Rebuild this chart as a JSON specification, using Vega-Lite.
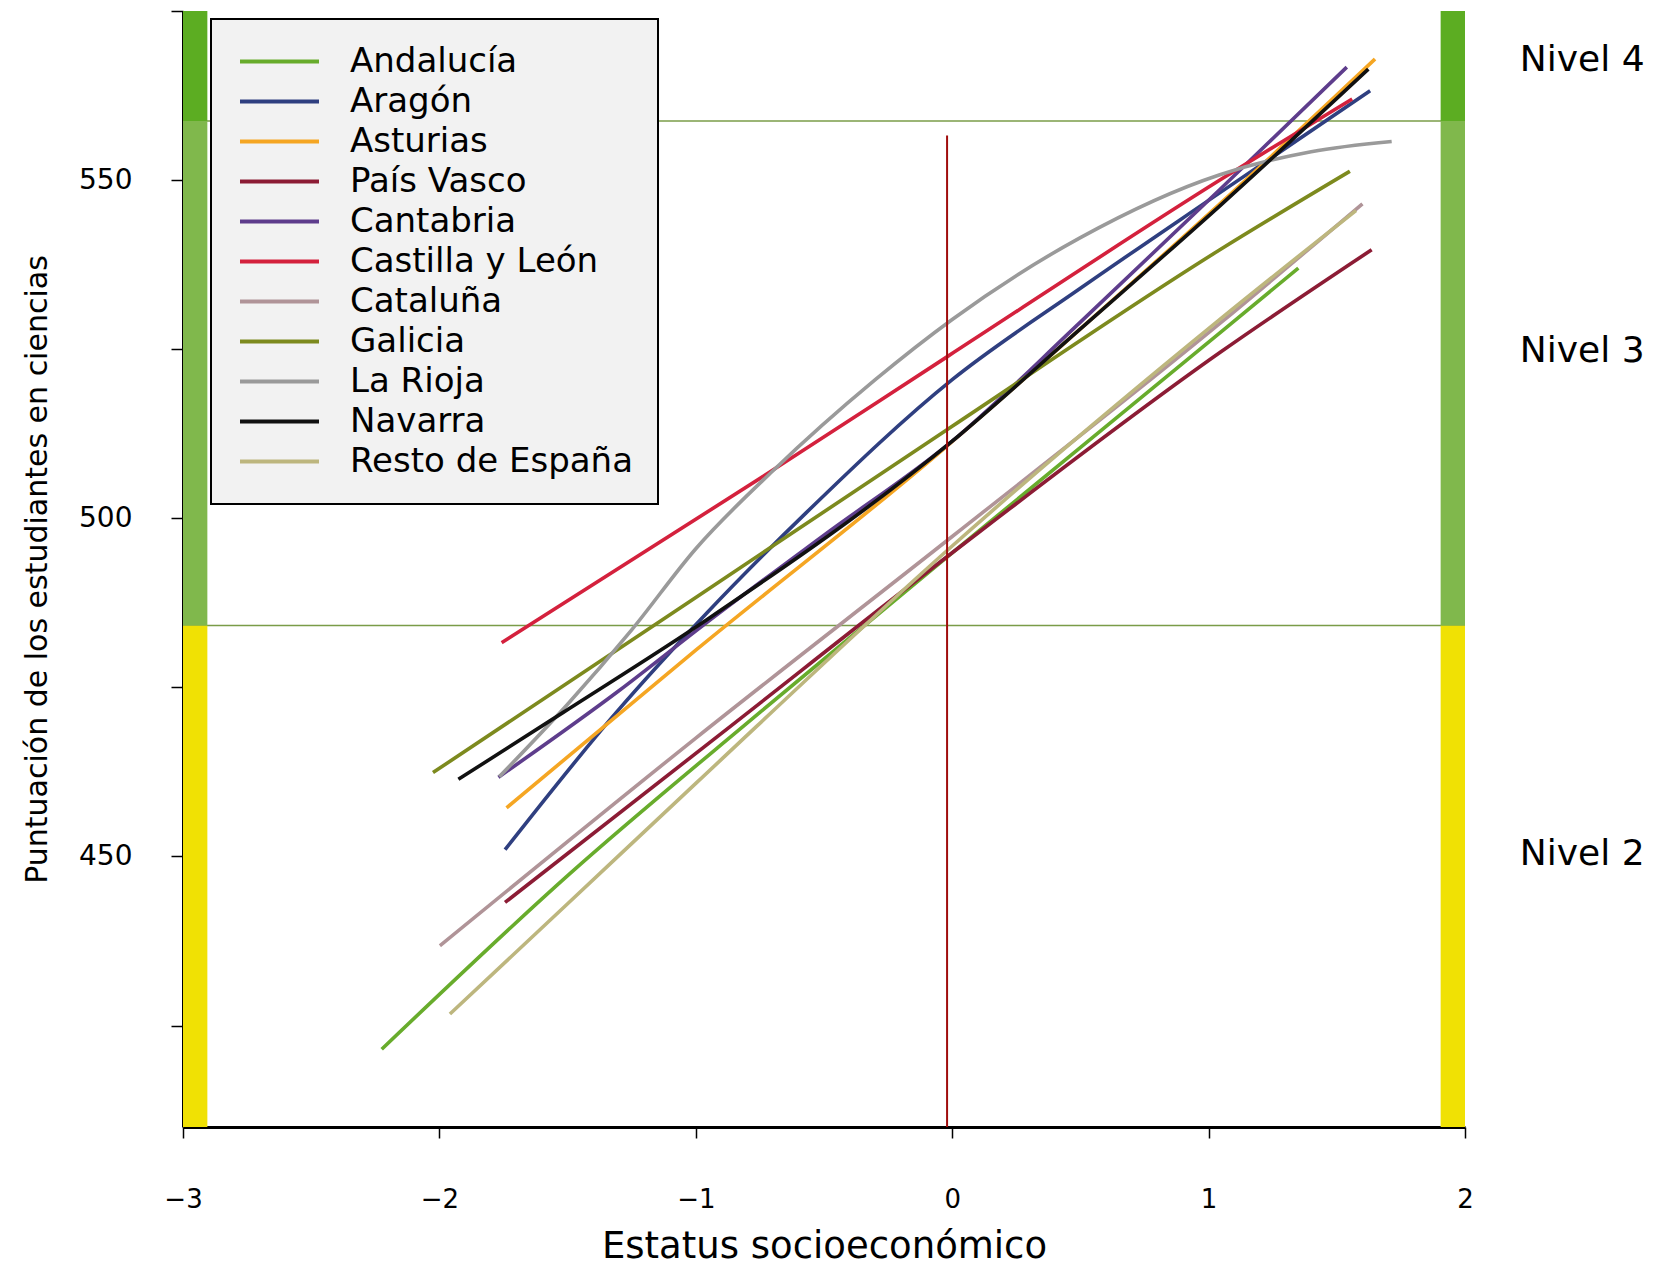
{
  "$schema": "https://vega.github.io/schema/vega-lite/v6.json",
  "width": 1282,
  "height": 1116,
  "autosize": "none",
  "padding": {"left": 183, "top": 11, "right": 194, "bottom": 143},
  "config": {
    "font": "DejaVu Sans",
    "view": {"stroke": null},
    "axis": {"grid": false, "domainColor": "black", "tickColor": "black", "labelColor": "black", "titleColor": "black", "titleFontWeight": "normal", "labelFont": "DejaVu Sans", "titleFont": "DejaVu Sans"}
  },
  "encoding": {
    "x": {"field": "x", "type": "quantitative", "scale": {"domain": [-3, 2], "nice": false, "zero": false},
      "axis": {"title": "Estatus socioeconómico", "values": [-3, -2.5, -2, -1.5, -1, -0.5, 0, 0.5, 1, 1.5, 2],
        "format": "d",
        "labelExpr": "datum.value % 1 === 0 ? datum.label : ''", "labelFontSize": 26, "labelPadding": 48,
        "tickSize": 11, "tickWidth": 1.5, "domainWidth": 3, "labelFlush": false, "labelOverlap": false,
        "titleFontSize": 37, "titlePadding": 16}},
    "y": {"field": "y", "type": "quantitative", "scale": {"domain": [410, 575], "nice": false, "zero": false},
      "axis": {"title": "Puntuación de los estudiantes en ciencias", "values": [425, 450, 475, 500, 525, 550, 575],
        "labelExpr": "datum.value % 50 === 0 ? datum.label : ''", "labelFontSize": 28, "labelPadding": 39,
        "tickSize": 12, "tickWidth": 1.5, "domainWidth": 3, "labelFlush": false, "labelOverlap": false,
        "titleFontSize": 30, "titlePadding": 26}}
  },
  "layer": [
    {
      "data": {"values": [
        {"x": -3, "x2": 2, "y": 484.14},
        {"x": -3, "x2": 2, "y": 558.73}
      ]},
      "mark": {"type": "rule", "color": "#7a9c48", "strokeWidth": 1.5},
      "encoding": {"x2": {"field": "x2"}}
    },
    {
      "data": {"values": [
        {"x": -3, "x2": -2.905, "y": 410, "y2": 484.14, "nivel": "Nivel 2"},
        {"x": -3, "x2": -2.905, "y": 484.14, "y2": 558.73, "nivel": "Nivel 3"},
        {"x": -3, "x2": -2.905, "y": 558.73, "y2": 575, "nivel": "Nivel 4"},
        {"x": 1.905, "x2": 2, "y": 410, "y2": 484.14, "nivel": "Nivel 2"},
        {"x": 1.905, "x2": 2, "y": 484.14, "y2": 558.73, "nivel": "Nivel 3"},
        {"x": 1.905, "x2": 2, "y": 558.73, "y2": 575, "nivel": "Nivel 4"}
      ]},
      "mark": {"type": "rect"},
      "encoding": {
        "x2": {"field": "x2"},
        "y2": {"field": "y2"},
        "fill": {"field": "nivel", "type": "nominal", "scale": {"domain": ["Nivel 2", "Nivel 3", "Nivel 4"], "range": ["#f0e104", "#80b84c", "#5cad22"]}, "legend": null}
      }
    },
    {
      "data": {"values": [
        {"region": "Andalucía", "x": -2.225, "y": 421.5},
        {"region": "Andalucía", "x": -1.49, "y": 447.5},
        {"region": "Andalucía", "x": -0.75, "y": 471.3},
        {"region": "Andalucía", "x": 0, "y": 494.9},
        {"region": "Andalucía", "x": 1.044, "y": 527.4},
        {"region": "Andalucía", "x": 1.35, "y": 537.0},

        {"region": "Aragón", "x": -1.744, "y": 451.0},
        {"region": "Aragón", "x": -1.31, "y": 471.3},
        {"region": "Aragón", "x": -0.957, "y": 486.0},
        {"region": "Aragón", "x": -0.57, "y": 500.8},
        {"region": "Aragón", "x": 0, "y": 520.5},
        {"region": "Aragón", "x": 0.5, "y": 534.0},
        {"region": "Aragón", "x": 1.0, "y": 547.0},
        {"region": "Aragón", "x": 1.63, "y": 563.2},

        {"region": "Asturias", "x": -1.738, "y": 457.2},
        {"region": "Asturias", "x": -1.0, "y": 480.5},
        {"region": "Asturias", "x": -0.035, "y": 510.2},
        {"region": "Asturias", "x": 0.5, "y": 528.0},
        {"region": "Asturias", "x": 1.044, "y": 546.5},
        {"region": "Asturias", "x": 1.649, "y": 567.9},

        {"region": "País Vasco", "x": -1.744, "y": 443.2},
        {"region": "País Vasco", "x": -0.9, "y": 468.2},
        {"region": "País Vasco", "x": 0, "y": 494.9},
        {"region": "País Vasco", "x": 1.044, "y": 524.5},
        {"region": "País Vasco", "x": 1.636, "y": 539.7},

        {"region": "Cantabria", "x": -1.77, "y": 461.7},
        {"region": "Cantabria", "x": -1.3, "y": 474.5},
        {"region": "Cantabria", "x": -0.96, "y": 484.5},
        {"region": "Cantabria", "x": -0.5, "y": 497.5},
        {"region": "Cantabria", "x": 0, "y": 511.4},
        {"region": "Cantabria", "x": 0.5, "y": 529.0},
        {"region": "Cantabria", "x": 1.044, "y": 548.6},
        {"region": "Cantabria", "x": 1.539, "y": 566.7},

        {"region": "Castilla y León", "x": -1.757, "y": 481.6},
        {"region": "Castilla y León", "x": -0.737, "y": 506.2},
        {"region": "Castilla y León", "x": -0.019, "y": 523.9},
        {"region": "Castilla y León", "x": 1.044, "y": 550.0},
        {"region": "Castilla y León", "x": 1.56, "y": 562.0},

        {"region": "Cataluña", "x": -1.998, "y": 436.8},
        {"region": "Cataluña", "x": -1.0, "y": 467.5},
        {"region": "Cataluña", "x": 0, "y": 497.3},
        {"region": "Cataluña", "x": 1.044, "y": 528.8},
        {"region": "Cataluña", "x": 1.6, "y": 546.5},

        {"region": "Galicia", "x": -2.025, "y": 462.4},
        {"region": "Galicia", "x": -1.0, "y": 488.3},
        {"region": "Galicia", "x": 0, "y": 513.6},
        {"region": "Galicia", "x": 1.044, "y": 539.7},
        {"region": "Galicia", "x": 1.551, "y": 551.3},

        {"region": "La Rioja", "x": -1.766, "y": 461.8},
        {"region": "La Rioja", "x": -1.5, "y": 472.5},
        {"region": "La Rioja", "x": -1.25, "y": 483.5},
        {"region": "La Rioja", "x": -1.0, "y": 495.5},
        {"region": "La Rioja", "x": -0.7, "y": 507.0},
        {"region": "La Rioja", "x": -0.3, "y": 520.5},
        {"region": "La Rioja", "x": 0, "y": 529.4},
        {"region": "La Rioja", "x": 0.5, "y": 541.5},
        {"region": "La Rioja", "x": 1.044, "y": 550.8},
        {"region": "La Rioja", "x": 1.4, "y": 554.2},
        {"region": "La Rioja", "x": 1.714, "y": 555.7},

        {"region": "Navarra", "x": -1.926, "y": 461.4},
        {"region": "Navarra", "x": -1.517, "y": 471.3},
        {"region": "Navarra", "x": -0.957, "y": 485.0},
        {"region": "Navarra", "x": 0, "y": 511.4},
        {"region": "Navarra", "x": 0.5, "y": 528.0},
        {"region": "Navarra", "x": 1.044, "y": 546.2},
        {"region": "Navarra", "x": 1.623, "y": 566.4},

        {"region": "Resto de España", "x": -1.959, "y": 426.7},
        {"region": "Resto de España", "x": -1.5, "y": 443.0},
        {"region": "Resto de España", "x": -1.0, "y": 460.8},
        {"region": "Resto de España", "x": 0, "y": 495.9},
        {"region": "Resto de España", "x": 1.044, "y": 529.4},
        {"region": "Resto de España", "x": 1.575, "y": 545.5}
      ]},
      "mark": {"type": "line", "strokeWidth": 3.6, "interpolate": "monotone"},
      "encoding": {
        "color": {"field": "region", "type": "nominal",
          "scale": {
            "domain": ["Andalucía", "Aragón", "Asturias", "País Vasco", "Cantabria", "Castilla y León", "Cataluña", "Galicia", "La Rioja", "Navarra", "Resto de España"],
            "range": ["#68ac2c", "#2f3f80", "#f5a623", "#8c1c35", "#5e3d8c", "#d4213d", "#b09498", "#7d8a1e", "#9a9a9a", "#111111", "#bdb67e"]
          },
          "legend": {"title": null, "orient": "none", "legendX": 28, "legendY": 8, "direction": "vertical",
            "fillColor": "#f2f2f2", "strokeColor": "black", "padding": 25,
            "symbolType": "stroke", "symbolSize": 6241, "symbolStrokeWidth": 4, "symbolOffset": 2,
            "labelFontSize": 34, "labelOffset": 29, "labelColor": "black", "labelFont": "DejaVu Sans",
            "rowPadding": 5, "clipHeight": 35, "labelLimit": 500,
            "encode": {"legend": {"update": {"strokeWidth": {"value": 2}}}}}
        }
      }
    },
    {
      "data": {"values": [{"x": -0.02, "y": 410, "y2": 556.6}]},
      "mark": {"type": "rule", "color": "#a00c0c", "strokeWidth": 2},
      "encoding": {"y2": {"field": "y2"}}
    },
    {
      "data": {"values": [
        {"x": 2.214, "y": 567.8, "nivel": "Nivel 4"},
        {"x": 2.214, "y": 524.8, "nivel": "Nivel 3"},
        {"x": 2.214, "y": 450.3, "nivel": "Nivel 2"}
      ]},
      "mark": {"type": "text", "align": "left", "baseline": "middle", "fontSize": 36, "color": "black", "font": "DejaVu Sans"},
      "encoding": {"text": {"field": "nivel"}}
    }
  ]
}
